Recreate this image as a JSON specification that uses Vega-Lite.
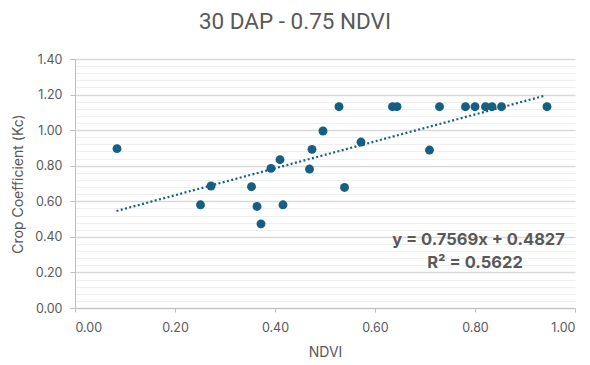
{
  "$schema": "https://vega.github.io/schema/vega-lite/v6.json",
  "width": 500,
  "height": 249,
  "autosize": "none",
  "padding": {"left": 75, "top": 59, "right": 15, "bottom": 57},
  "background": "white",
  "title": {
    "text": "30 DAP - 0.75 NDVI",
    "font": "Roboto",
    "fontSize": 22.5,
    "fontWeight": "normal",
    "color": "#595959",
    "anchor": "middle",
    "dx": -30,
    "offset": 20
  },
  "config": {
    "view": {"stroke": null},
    "font": "Inter"
  },
  "datasets": {
    "points": [
      {"ndvi": 0.084, "kc": 0.896},
      {"ndvi": 0.251, "kc": 0.58},
      {"ndvi": 0.272, "kc": 0.686},
      {"ndvi": 0.353, "kc": 0.682},
      {"ndvi": 0.364, "kc": 0.571},
      {"ndvi": 0.372, "kc": 0.473},
      {"ndvi": 0.392, "kc": 0.785},
      {"ndvi": 0.41, "kc": 0.834},
      {"ndvi": 0.416, "kc": 0.58},
      {"ndvi": 0.469, "kc": 0.781},
      {"ndvi": 0.474, "kc": 0.892},
      {"ndvi": 0.496, "kc": 0.995},
      {"ndvi": 0.528, "kc": 1.132},
      {"ndvi": 0.539, "kc": 0.678},
      {"ndvi": 0.572, "kc": 0.933},
      {"ndvi": 0.635, "kc": 1.132},
      {"ndvi": 0.644, "kc": 1.132},
      {"ndvi": 0.709, "kc": 0.888},
      {"ndvi": 0.729, "kc": 1.132},
      {"ndvi": 0.781, "kc": 1.132},
      {"ndvi": 0.8, "kc": 1.132},
      {"ndvi": 0.821, "kc": 1.132},
      {"ndvi": 0.834, "kc": 1.132},
      {"ndvi": 0.853, "kc": 1.132},
      {"ndvi": 0.944, "kc": 1.132}
    ],
    "trend": [
      {"ndvi": 0.083, "kc": 0.5455},
      {"ndvi": 0.94, "kc": 1.1942}
    ],
    "labels": [
      {"ndvi": 0.807, "kc": 0.355, "label": "y = 0.7569x + 0.4827"},
      {"ndvi": 0.8, "kc": 0.224, "label": "R² = 0.5622"}
    ]
  },
  "encoding": {
    "x": {
      "field": "ndvi",
      "type": "quantitative",
      "scale": {"domain": [0, 1], "nice": false, "zero": false},
      "axis": {
        "title": "NDVI",
        "values": [0, 0.2, 0.4, 0.6, 0.8, 1.0],
        "format": ".2f",
        "grid": false,
        "domainColor": "#bfbfbf",
        "domainWidth": 1,
        "tickColor": "#bfbfbf",
        "tickSize": 4,
        "labelPadding": 9,
        "labelFont": "Inter",
        "labelFontSize": 12.5,
        "labelColor": "#595959",
        "titleFont": "Inter",
        "titleFontSize": 14,
        "titleFontWeight": "normal",
        "titleColor": "#595959",
        "titlePadding": 12
      }
    },
    "y": {
      "field": "kc",
      "type": "quantitative",
      "scale": {"domain": [0, 1.4], "nice": false, "zero": false},
      "axis": {
        "title": "Crop Coefficient (Kc)",
        "values": [0, 0.04, 0.08, 0.12, 0.16, 0.2, 0.24, 0.28, 0.32, 0.36, 0.4, 0.44, 0.48, 0.52, 0.56, 0.6, 0.64, 0.68, 0.72, 0.76, 0.8, 0.84, 0.88, 0.92, 0.96, 1.0, 1.04, 1.08, 1.12, 1.16, 1.2, 1.24, 1.28, 1.32, 1.36, 1.4],
        "labelExpr": "round(datum.value * 100) % 20 === 0 ? format(datum.value, '.2f') : ''",
        "labelOverlap": false,
        "grid": true,
        "gridColor": {"condition": {"test": "round(datum.value * 100) % 20 === 0", "value": "#d9d9d9"}, "value": "#efefef"},
        "gridWidth": {"condition": {"test": "round(datum.value * 100) % 20 === 0", "value": 1.3}, "value": 1},
        "tickOpacity": {"condition": {"test": "round(datum.value * 100) % 20 === 0", "value": 1}, "value": 0},
        "domainColor": "#bfbfbf",
        "tickColor": "#bfbfbf",
        "tickSize": 5,
        "labelPadding": 8,
        "labelFont": "Inter",
        "labelFontSize": 12.5,
        "labelColor": "#595959",
        "titleFont": "Inter",
        "titleFontSize": 14,
        "titleFontWeight": "normal",
        "titleColor": "#595959",
        "titlePadding": 9
      }
    }
  },
  "layer": [
    {
      "data": {"name": "trend"},
      "mark": {"type": "line", "color": "#156082", "strokeWidth": 2.2, "strokeDash": [2, 2.4], "strokeCap": "butt"}
    },
    {
      "data": {"name": "points"},
      "mark": {"type": "point", "filled": true, "color": "#156082", "size": 80, "opacity": 1}
    },
    {
      "data": {"name": "labels"},
      "mark": {"type": "text", "font": "Inter", "fontSize": 16.5, "fontWeight": "bold", "color": "#595959", "align": "center", "baseline": "alphabetic"},
      "encoding": {"text": {"field": "label"}}
    }
  ]
}
